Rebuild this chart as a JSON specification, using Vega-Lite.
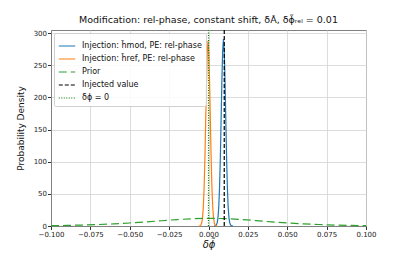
{
  "$schema": "https://vega.github.io/schema/vega-lite/v6.json",
  "width": 315,
  "height": 196,
  "autosize": {"type": "none"},
  "padding": {"left": 51, "top": 30, "right": 41, "bottom": 29},
  "background": "white",
  "config": {
    "font": "DejaVu Sans",
    "view": {"stroke": "#808080", "strokeWidth": 1},
    "axis": {
      "domainColor": "#808080",
      "tickColor": "#333",
      "tickSize": 3.5,
      "labelFontSize": 7,
      "labelColor": "#222",
      "labelOverlap": false,
      "gridColor": "#d3d3d3",
      "gridWidth": 0.8,
      "titleFontWeight": "normal",
      "titleColor": "#111"
    }
  },
  "title": {
    "text": "Modification: rel-phase, constant shift, δÃ, δϕ̃ᵣₑₗ = 0.01",
    "fontSize": 9.5,
    "fontWeight": "normal",
    "color": "#111",
    "offset": 5
  },
  "encoding": {
    "x": {
      "field": "x", "type": "quantitative",
      "scale": {"domain": [-0.1, 0.1], "nice": false, "zero": false},
      "axis": {
        "values": [-0.1, -0.075, -0.05, -0.025, 0, 0.025, 0.05, 0.075, 0.1],
        "format": ".3f",
        "title": "δϕ̃",
        "titleFontSize": 10,
        "titleFontStyle": "italic",
        "titlePadding": 2,
        "labelPadding": 1,
        "labelFlush": false
      }
    },
    "color": {
      "field": "series", "type": "nominal",
      "scale": {
        "domain": ["s1", "s2", "s3", "s4", "s5"],
        "range": ["#1f77b4", "#ff7f0e", "#2ca02c", "#000000", "#008000"]
      },
      "legend": {
        "title": null,
        "orient": "top-left",
        "offset": 3,
        "labelExpr": "datum.value == 's1' ? 'Injection: h̃mod, PE: rel-phase' : datum.value == 's2' ? 'Injection: h̃ref, PE: rel-phase' : datum.value == 's3' ? 'Prior' : datum.value == 's4' ? 'Injected value' : 'δϕ = 0'",
        "symbolType": "stroke",
        "symbolSize": 270,
        "labelFontSize": 8,
        "labelOffset": 6,
        "labelColor": "#111",
        "rowPadding": 0,
        "fillColor": "rgba(255,255,255,0.85)",
        "strokeColor": "#d0d0d0",
        "cornerRadius": 2,
        "padding": 4,
        "encode": {
          "symbols": {
            "update": {
              "strokeWidth": {"signal": "datum.value == 's3' ? 2.8 : (datum.value == 's5' ? 1 : 1.3)"}
            }
          }
        }
      }
    },
    "strokeDash": {
      "field": "series", "type": "nominal",
      "scale": {
        "domain": ["s1", "s2", "s3", "s4", "s5"],
        "range": [[1, 0], [1, 0], [8, 4], [4, 2], [1, 1.5]]
      }
    },
    "strokeWidth": {
      "field": "series", "type": "nominal",
      "scale": {
        "domain": ["s1", "s2", "s3", "s4", "s5"],
        "range": [1.2, 1.2, 2.8, 1.2, 1]
      }
    }
  },
  "layer": [
    {
      "data": {
        "values": [
          {"series": "s1", "x": 0.0035, "y": 0},
          {"series": "s1", "x": 0.0045, "y": 0.5},
          {"series": "s1", "x": 0.005, "y": 1.6},
          {"series": "s1", "x": 0.0055, "y": 4.9},
          {"series": "s1", "x": 0.006, "y": 12.7},
          {"series": "s1", "x": 0.0065, "y": 29},
          {"series": "s1", "x": 0.007, "y": 59},
          {"series": "s1", "x": 0.0075, "y": 104},
          {"series": "s1", "x": 0.008, "y": 164},
          {"series": "s1", "x": 0.0085, "y": 226},
          {"series": "s1", "x": 0.009, "y": 273},
          {"series": "s1", "x": 0.0095, "y": 291},
          {"series": "s1", "x": 0.01, "y": 273},
          {"series": "s1", "x": 0.0105, "y": 226},
          {"series": "s1", "x": 0.011, "y": 164},
          {"series": "s1", "x": 0.0115, "y": 104},
          {"series": "s1", "x": 0.012, "y": 59},
          {"series": "s1", "x": 0.0125, "y": 29},
          {"series": "s1", "x": 0.013, "y": 12.7},
          {"series": "s1", "x": 0.0135, "y": 4.9},
          {"series": "s1", "x": 0.014, "y": 1.6},
          {"series": "s1", "x": 0.0145, "y": 0.5},
          {"series": "s1", "x": 0.0155, "y": 0},
          {"series": "s2", "x": -0.0058, "y": 0},
          {"series": "s2", "x": -0.0053, "y": 0.5},
          {"series": "s2", "x": -0.0048, "y": 1.6},
          {"series": "s2", "x": -0.0043, "y": 4.9},
          {"series": "s2", "x": -0.0038, "y": 12.6},
          {"series": "s2", "x": -0.0033, "y": 29},
          {"series": "s2", "x": -0.0028, "y": 58},
          {"series": "s2", "x": -0.0023, "y": 103},
          {"series": "s2", "x": -0.0018, "y": 162},
          {"series": "s2", "x": -0.0013, "y": 223},
          {"series": "s2", "x": -0.0008, "y": 270},
          {"series": "s2", "x": -0.0003, "y": 288},
          {"series": "s2", "x": 0.0002, "y": 270},
          {"series": "s2", "x": 0.0007, "y": 223},
          {"series": "s2", "x": 0.0012, "y": 162},
          {"series": "s2", "x": 0.0017, "y": 103},
          {"series": "s2", "x": 0.0022, "y": 58},
          {"series": "s2", "x": 0.0027, "y": 29},
          {"series": "s2", "x": 0.0032, "y": 12.6},
          {"series": "s2", "x": 0.0037, "y": 4.9},
          {"series": "s2", "x": 0.0042, "y": 1.6},
          {"series": "s2", "x": 0.0047, "y": 0.5},
          {"series": "s2", "x": 0.0055, "y": 0},
          {"series": "s3", "x": -0.1, "y": 0.5},
          {"series": "s3", "x": -0.09, "y": 0.9},
          {"series": "s3", "x": -0.08, "y": 1.5},
          {"series": "s3", "x": -0.07, "y": 2.3},
          {"series": "s3", "x": -0.06, "y": 3.3},
          {"series": "s3", "x": -0.05, "y": 4.7},
          {"series": "s3", "x": -0.04, "y": 6.3},
          {"series": "s3", "x": -0.03, "y": 8.2},
          {"series": "s3", "x": -0.02, "y": 10},
          {"series": "s3", "x": -0.01, "y": 11.3},
          {"series": "s3", "x": 0, "y": 12},
          {"series": "s3", "x": 0.01, "y": 11.5},
          {"series": "s3", "x": 0.02, "y": 10.3},
          {"series": "s3", "x": 0.03, "y": 8.4},
          {"series": "s3", "x": 0.04, "y": 6.4},
          {"series": "s3", "x": 0.05, "y": 4.7},
          {"series": "s3", "x": 0.06, "y": 3.3},
          {"series": "s3", "x": 0.07, "y": 2.3},
          {"series": "s3", "x": 0.08, "y": 1.5},
          {"series": "s3", "x": 0.09, "y": 0.9},
          {"series": "s3", "x": 0.1, "y": 0.5}
        ]
      },
      "mark": {"type": "line", "strokeCap": "butt"},
      "encoding": {
        "y": {
          "field": "y", "type": "quantitative",
          "scale": {"domain": [0, 305], "nice": false},
          "axis": {
            "values": [0, 50, 100, 150, 200, 250, 300],
            "title": "Probability Density",
            "titleFontSize": 9,
            "titlePadding": 8,
            "labelPadding": 1
          }
        }
      }
    },
    {
      "data": {
        "values": [
          {"series": "s4", "x": 0.01},
          {"series": "s5", "x": 0}
        ]
      },
      "mark": {"type": "rule"},
      "encoding": {}
    }
  ]
}
